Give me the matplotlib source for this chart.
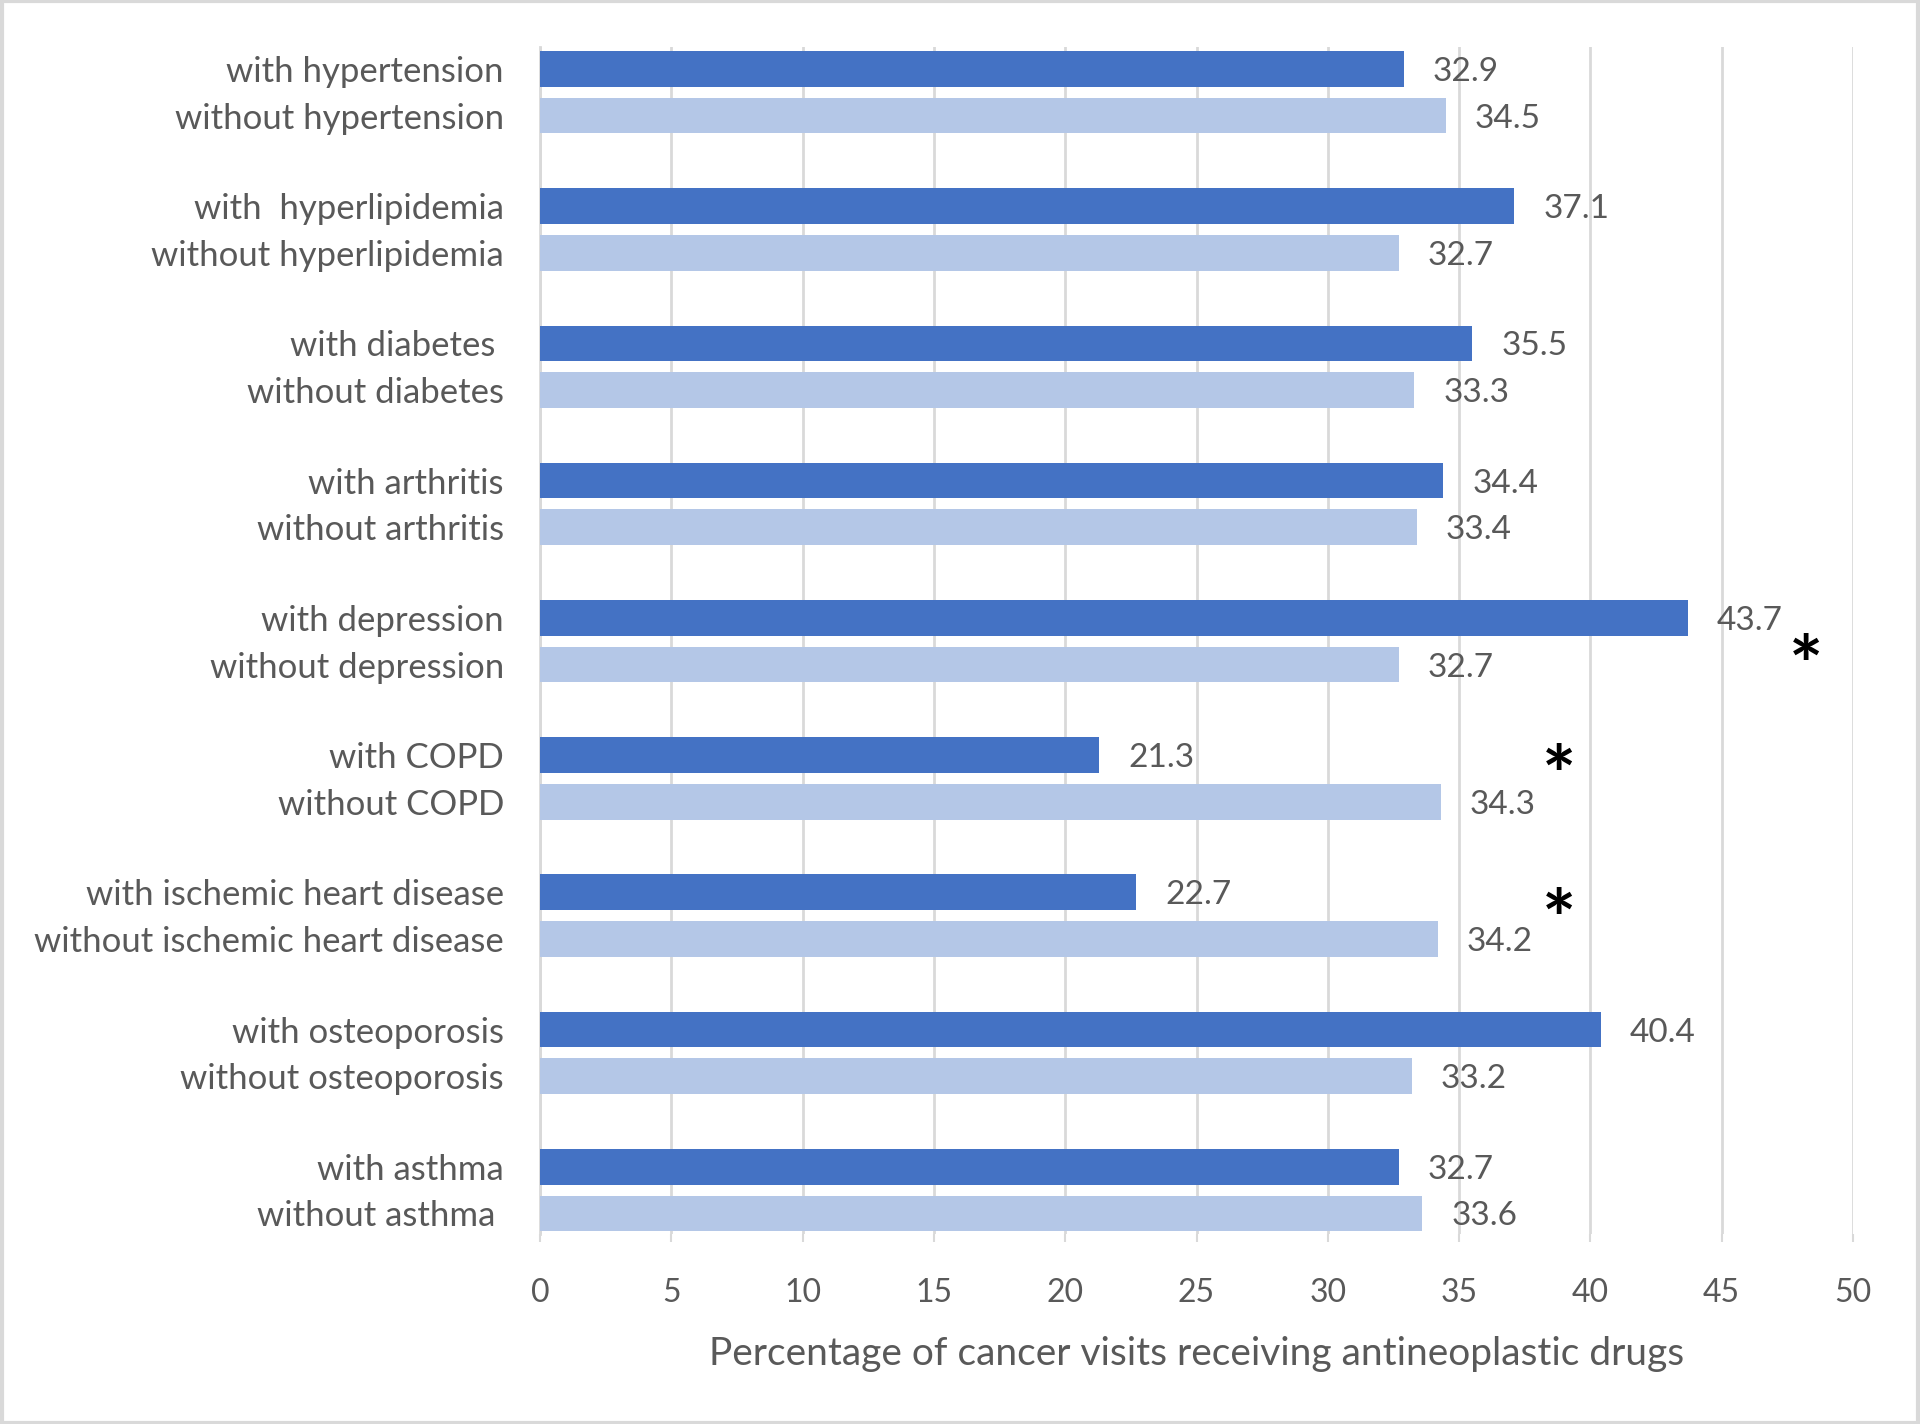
import numpy as np
import matplotlib.pyplot as plt

# Datos ---------------------------------------------------------------
conditions = ['hypertension', 'hyperlipidemia', 'diabetes', 'arthritis', 'depression',
              'COPD', 'ischemic heart disease', 'osteoporosis', 'asthma']
with_labels = ['with hypertension', 'with  hyperlipidemia', 'with diabetes ', 'with arthritis',
               'with depression', 'with COPD', 'with ischemic heart disease',
               'with osteoporosis', 'with asthma']
without_labels = ['without hypertension', 'without hyperlipidemia', 'without diabetes',
                  'without arthritis', 'without depression', 'without COPD',
                  'without ischemic heart disease', 'without osteoporosis', 'without asthma ']
with_vals = [32.9, 37.1, 35.5, 34.4, 43.7, 21.3, 22.7, 40.4, 32.7]
without_vals = [34.5, 32.7, 33.3, 33.4, 32.7, 34.3, 34.2, 33.2, 33.6]

# asteriscos de significancia: indice de grupo, posicion x, desplazamiento y
sig_group = [4, 5, 6]
sig_x = [48.2, 38.8, 38.8]
sig_dy = [0.22, 0.02, 0.07]

xticks = np.arange(0, 55, 5)
xlabel = 'Percentage of cancer visits receiving antineoplastic drugs'

dark = '#4472C4'
light = '#B4C7E7'
gris = '#595959'
plt.rcParams['font.family'] = ['Lato', 'DejaVu Sans']

fig = plt.figure(figsize=(19.2, 14.24), dpi=100)
ax = fig.add_axes([540/1920, 1-1234/1424, (1853-540)/1920, (1234-47)/1424])

pos = np.arange(len(conditions))
off = 0.17
h = 0.26
ax.barh(pos - off, with_vals, height=h, color=dark, zorder=3)
ax.barh(pos + off, without_vals, height=h, color=light, zorder=3)

for i in range(len(conditions)):
    ax.text(with_vals[i] + 1.1, pos[i] - off, f'{with_vals[i]:.1f}', va='center_baseline',
            ha='left', fontsize=24, color=gris)
    ax.text(without_vals[i] + 1.1, pos[i] + off, f'{without_vals[i]:.1f}', va='center_baseline',
            ha='left', fontsize=24, color=gris)

for g, x, dy in zip(sig_group, sig_x, sig_dy):
    ax.text(x, pos[g] + dy, '*', ha='center', va='center', fontsize=58, fontweight='bold',
            color='black')

yt = np.concatenate([pos - off, pos + off])
ax.set_yticks(yt)
ax.set_yticklabels(with_labels + without_labels, fontsize=25, color=gris)
ax.set_ylim(8 + 0.32, -0.33)
ax.set_xlim(0, 50)
ax.set_xticks(xticks)
ax.set_xticklabels([str(t) for t in xticks], fontsize=23, color=gris)
ax.tick_params(axis='y', length=0, pad=26)
ax.tick_params(axis='x', length=6, width=1.5, color='#D9D9D9', pad=26)
ax.xaxis.grid(True, color='#D9D9D9', linewidth=2, zorder=0)
for s in ['top', 'right', 'bottom']:
    ax.spines[s].set_visible(False)
ax.spines['left'].set_color('#D9D9D9')
ax.spines['left'].set_linewidth(2)
ax.set_xlabel(xlabel, fontsize=28, color=gris, labelpad=20)

# marco exterior
fig.patches.append(plt.Rectangle((0.001, 0.001), 0.998, 0.998, transform=fig.transFigure,
                                 fill=False, edgecolor='#D9D9D9', linewidth=3))

plt.savefig('out.png', dpi=100)
